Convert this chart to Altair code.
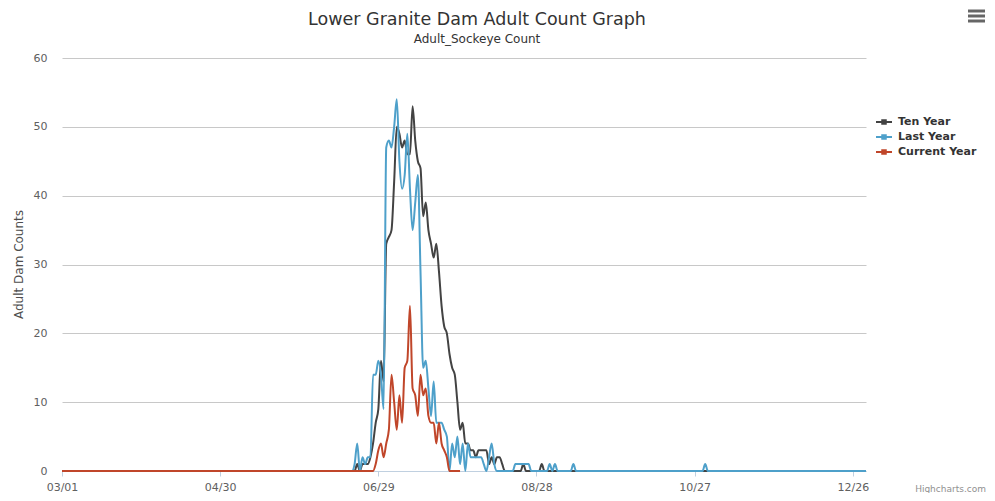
import altair as alt
import pandas as pd

# ---------------- data ----------------
START_DATE = "2015-03-01"
END_DATE = "2015-12-31"
SERIES = ["Ten Year", "Last Year", "Current Year"]
COLORS = ["#434343", "#4ea0ca", "#c0462a"]
X_TICKS = ["2015-03-01", "2015-04-30", "2015-06-29", "2015-08-28", "2015-10-27", "2015-12-26"]
Y_TICKS = [0, 10, 20, 30, 40, 50, 60]

WINDOW_START = 108  # day index (from 03/01) of the first value in each window

ten_year_window = [
    0, 0, 0, 0, 1, 0, 1, 1, 1, 2, 4, 7, 9, 16, 13, 33, 34, 35, 42, 50,
    49, 47, 48, 46, 46, 53, 48, 45, 44, 37, 39, 35, 33, 31, 33, 29, 24, 21, 20, 17,
    15, 14, 10, 6, 7, 4, 4, 3, 3, 2, 3, 3, 3, 3, 1, 2, 1, 2, 2, 1,
    0, 0, 0, 0, 0, 0, 0, 1, 0, 0, 0, 0, 0, 0, 1, 0,
]
last_year_window = [
    0, 0, 0, 1, 4, 0, 2, 1, 2, 2, 14, 14, 16, 14, 9, 47, 48, 47, 50, 54,
    45, 41, 43, 49, 41, 35, 39, 43, 29, 15, 16, 12, 8, 13, 7, 7, 7, 6, 5, 0,
    4, 2, 5, 1, 4, 0, 4, 2, 2, 2, 2, 2, 1, 0, 2, 4, 1, 0, 0, 0,
    0, 0, 0, 0, 1, 1, 1, 1, 1, 1, 0, 0, 0, 0, 0, 0, 0, 1, 0, 1,
    0, 0, 0, 0, 0, 0, 1, 0,
]
last_year_late_days = [244]
last_year_late_values = [1]
current_year_window = [
    0, 0, 0, 0, 0, 0, 0, 0, 0, 0, 0, 1, 3, 4, 2, 4, 6, 14, 10, 6,
    11, 7, 15, 16, 24, 12, 11, 8, 14, 11, 12, 8, 7, 7, 4, 7, 4, 3, 2, 0,
    0, 0, 0, 0,
]

# ---------------- build table ----------------
dates = pd.date_range(START_DATE, END_DATE, freq="D")
n_days = len(dates)

ten_year = [0] * WINDOW_START + ten_year_window
ten_year += [0] * (n_days - len(ten_year))
last_year = [0] * WINDOW_START + last_year_window
last_year += [0] * (n_days - len(last_year))
for d, v in zip(last_year_late_days, last_year_late_values):
    last_year[d] = v
current_year = [0] * WINDOW_START + current_year_window

rows = []
for name, vals in zip(SERIES, [ten_year, last_year, current_year]):
    for d, v in zip(dates, vals):
        rows.append({"date": d.strftime("%Y-%m-%d"), "count": v, "series": name})
df = pd.DataFrame(rows)


def dt(s):
    y, m, d = (int(p) for p in s.split("-"))
    return alt.DateTime(year=y, month=m, date=d, utc=True)


FONT = "DejaVu Sans"
LEGEND_PATH = "M-1,0H1M-0.22,-0.22H0.22V0.22H-0.22Z"

x_enc = alt.X(
    "date:T",
    scale=alt.Scale(type="utc", domain=[dt(START_DATE), dt(END_DATE)]),
    axis=alt.Axis(
        values=[dt(t) for t in X_TICKS],
        format="%m/%d",
        title=None,
        grid=False,
        labelFlush=False,
        domainColor="#C0D0E0",
        tickColor="#C0D0E0",
        tickSize=5,
        labelPadding=5,
        labelFontSize=11,
        labelColor="#606060",
        labelFont=FONT,
    ),
)
y_enc = alt.Y(
    "count:Q",
    scale=alt.Scale(domain=[0, 60], nice=False),
    axis=alt.Axis(
        values=Y_TICKS,
        grid=True,
        gridColor="#C8C8C8",
        domain=False,
        ticks=False,
        labelPadding=15,
        labelFontSize=11,
        labelColor="#606060",
        labelFont=FONT,
        title="Adult Dam Counts",
        titleFont=FONT,
        titleFontSize=12,
        titleFontWeight="normal",
        titleColor="#4d4d4d",
        titleX=-44,
        titleY=206,
        titleAngle=-90,
        titleAlign="center",
        titleBaseline="middle",
    ),
)
color_enc = alt.Color(
    "series:N",
    scale=alt.Scale(domain=SERIES, range=COLORS),
    legend=alt.Legend(
        orient="none",
        legendX=813,
        legendY=55,
        title=None,
        labelFont=FONT,
        labelFontSize=11,
        labelFontWeight="bold",
        labelColor="#333333",
        symbolType=LEGEND_PATH,
        symbolSize=256,
        symbolStrokeWidth=2,
        labelOffset=5,
        rowPadding=0,
    ),
)

base = alt.Chart(df).mark_line(strokeWidth=2, interpolate="monotone").encode(
    x=x_enc, y=y_enc, color=color_enc
)
series_layers = [base.transform_filter(alt.datum.series == s) for s in SERIES]

credit = alt.Chart(pd.DataFrame({"t": ["Highcharts.com"]})).mark_text(
    align="right", baseline="alphabetic", fontSize=9, color="#909090", font=FONT
).encode(text="t:N", x=alt.value(924), y=alt.value(434))

menu_df = pd.DataFrame({"k": [0]})
menu = [
    alt.Chart(menu_df).mark_rule(color="#666666", strokeWidth=3).encode(
        x=alt.value(906), x2=alt.value(923), y=alt.value(yy)
    )
    for yy in (-47, -42, -37)
]

chart = alt.layer(*series_layers, credit, *menu).properties(
    width=804,
    height=413,
    autosize=alt.AutoSizeParams(type="none"),
    padding={"left": 54, "top": 50, "right": 121, "bottom": 22},
    title=alt.Title(
        "Lower Granite Dam Adult Count Graph",
        subtitle="Adult_Sockeye Count",
        font=FONT,
        fontSize=17.5,
        fontWeight="normal",
        color="#333333",
        subtitleFont=FONT,
        subtitleFontSize=12,
        subtitleColor="#333333",
        anchor="middle",
        frame="group",
        dx=13,
        offset=-35,
        subtitlePadding=5,
    ),
).configure_view(stroke=None)

chart.save("out.html", embed_options={"renderer": "svg", "actions": False})
